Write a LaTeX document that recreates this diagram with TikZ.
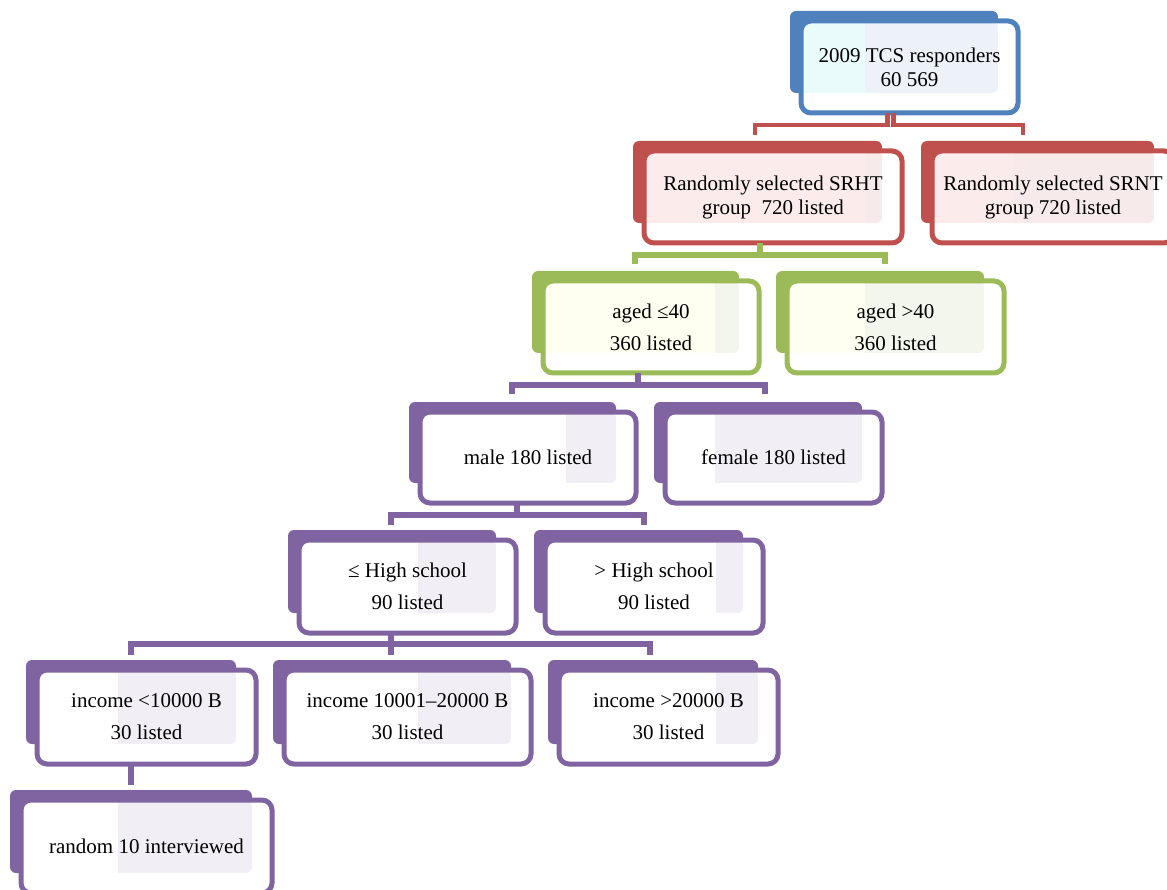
\documentclass[tikz,border=0pt]{standalone}
\usepackage{fontspec}
\setmainfont{Liberation Serif}
\definecolor{bl}{HTML}{4F81BD}
\definecolor{blR}{HTML}{EDF1F8}
\definecolor{blL}{HTML}{EAFBFC}
\definecolor{rd}{HTML}{C0504D}
\definecolor{rdR}{HTML}{F6EAEA}
\definecolor{rdL}{HTML}{FCEBEB}
\definecolor{gr}{HTML}{9BBB59}
\definecolor{grR}{HTML}{F3F6EC}
\definecolor{grL}{HTML}{FEFFF0}
\definecolor{pu}{HTML}{8064A2}
\definecolor{puR}{HTML}{F1EFF5}
\definecolor{puL}{HTML}{FFFFFF}
\tikzset{
  txtA/.style={align=center, inner sep=0pt, font=\fontsize{21}{24}\selectfont},
  txtB/.style={align=center, inner sep=0pt, font=\fontsize{21}{32}\selectfont},
  cn/.style={draw=#1, line width=5.5pt, line join=miter},
}
% name, x1, y1, x2, y2, split, colour, text (style via \boxtxt)
\newcommand\boxtxt{txtA}
\newcommand\tbox[8]{%
  \fill[#7, rounded corners=6pt] ({#2-11},{#3-10}) rectangle ({#4-20},{#5-20});
  \fill[white, rounded corners=10pt] (#2,#3) rectangle (#4,#5);
  \begin{scope}
    \clip[rounded corners=6pt] (#2,#3) rectangle ({#4-20},{#5-20});
    \fill[#7R] (#2,#3) rectangle ({#4-20},{#5-20});
    \fill[#7L] (#2,#3) rectangle (#6,{#5-20});
  \end{scope}
  \draw[#7, line width=5pt, rounded corners=10pt] (#2,#3) rectangle (#4,#5);
  \node[\boxtxt] (#1) at ({(#2+#4)/2},{(#3+#5)/2}) {#8};
}
\begin{document}
\begin{tikzpicture}[x=1pt,y=-1pt]
\useasboundingbox (0,0) rectangle (1167,890);

% level 1-2
\tbox{tcs}{801}{21}{1018}{113}{865}{bl}{2009 TCS responders\\60 569}
\tbox{srht}{644}{151}{902}{243}{865}{rd}{Randomly selected SRHT\\group\ \ 720 listed}
\tbox{srnt}{932}{151}{1174}{243}{1013}{rd}{Randomly selected SRNT\\group 720 listed}

% lower levels
\renewcommand\boxtxt{txtB}
\tbox{ageA}{543}{281}{759}{373}{715}{gr}{aged ≤40\\360 listed}
\tbox{ageB}{787}{281}{1004}{373}{865}{gr}{aged >40\\360 listed}
\tbox{male}{420}{412}{636}{503}{566}{pu}{male 180 listed}
\tbox{female}{665}{412}{882}{503}{715}{pu}{female 180 listed}
\tbox{hsA}{299}{540}{516}{633}{418}{pu}{≤ High school\\90 listed}
\tbox{hsB}{545}{540}{763}{633}{716}{pu}{> High school\\90 listed}
\tbox{incA}{37}{670}{256}{764}{118}{pu}{income <10000 B\\30 listed}
\tbox{incB}{284}{670}{531}{764}{418}{pu}{income 10001–20000 B\\30 listed}
\tbox{incC}{559}{670}{778}{764}{716}{pu}{income >20000 B\\30 listed}
\tbox{rnd}{21}{800}{272}{893}{118}{pu}{random 10 interviewed}

% connector end points
\coordinate (tcsOA) at (887.5,113);
\coordinate (tcsOB) at (893.5,113);
\coordinate (srhtIn) at (755,135);
\coordinate (srntIn) at (1023,135);
\coordinate (srhtO) at (760,243);
\coordinate (ageAIn) at (635,264);
\coordinate (ageBIn) at (885,264);
\coordinate (ageAO) at (638,373);
\coordinate (maleIn) at (512,394);
\coordinate (femaleIn) at (765,394);
\coordinate (maleO) at (517,503);
\coordinate (hsAIn) at (391,525);
\coordinate (hsBIn) at (644,525);
\coordinate (hsAO) at (391,633);
\coordinate (incAIn) at (131,655);
\coordinate (incBIn) at (391,655);
\coordinate (incCIn) at (650,655);
\coordinate (incAO) at (131,764);
\coordinate (rndIn) at (131,785);

% connectors
\draw[cn=rd, line width=4.5pt] (tcsOA) -- ++(0,12) -| (srhtIn);
\draw[cn=rd, line width=4.5pt] (tcsOB) -- ++(0,12) -| (srntIn);
\draw[cn=gr] (srhtO) -- ++(0,12) -| (ageAIn);
\draw[cn=gr] (srhtO) -- ++(0,12) -| (ageBIn);
\draw[cn=pu] (ageAO) -- ++(0,12) -| (maleIn);
\draw[cn=pu] (ageAO) -- ++(0,12) -| (femaleIn);
\draw[cn=pu] (maleO) -- ++(0,12) -| (hsAIn);
\draw[cn=pu] (maleO) -- ++(0,12) -| (hsBIn);
\draw[cn=pu] (hsAO) -- ++(0,11) -| (incAIn);
\draw[cn=pu] (hsAO) -- (incBIn);
\draw[cn=pu] (hsAO) -- ++(0,11) -| (incCIn);
\draw[cn=pu] (incAO) -- (rndIn);
\end{tikzpicture}
\end{document}
